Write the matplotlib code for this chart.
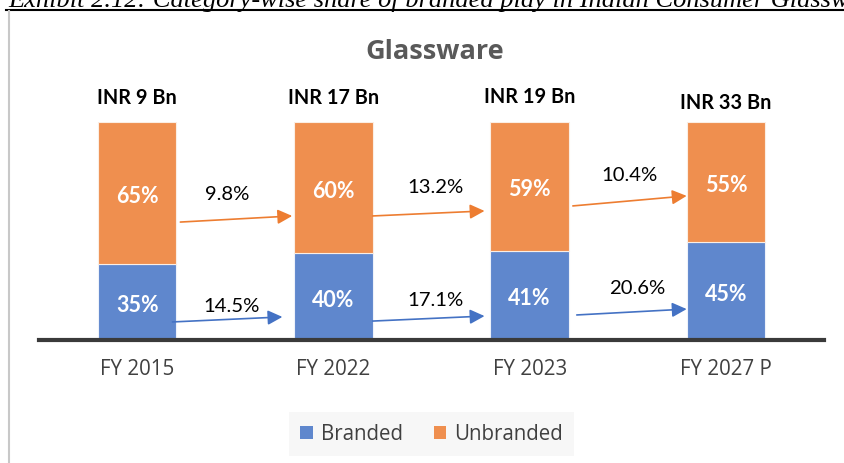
import matplotlib
matplotlib.use("Agg")
import matplotlib.pyplot as plt
from matplotlib.lines import Line2D
from matplotlib.patches import Patch


# ---------------------------------------------------
# Data
# ---------------------------------------------------

years = ["FY 2015", "FY 2022", "FY 2023", "FY 2027 P"]
totals = ["INR 9 Bn", "INR 17 Bn", "INR 19 Bn", "INR 33 Bn"]
branded = [35, 40, 41, 45]
unbranded = [65, 60, 59, 55]
branded_cagr = ["14.5%", "17.1%", "20.6%"]
unbranded_cagr = ["9.8%", "13.2%", "10.4%"]

BLUE = "#5f87cd"
ORANGE = "#ef8f4f"
ARROW_BLUE = "#4472c4"
ARROW_ORANGE = "#ed7d31"
GREY = "#404040"

BOLD_FONT = "Lato"
TEXT_FONT = "Open Sans"

# arrow layout (data coords): (x0, y0, x1, y1)
orange_arrows = [(0.22, 54.1, 0.79, 56.9), (1.2, 56.9, 1.77, 59.2), (2.22, 61.5, 2.8, 66.1)]
blue_arrows = [(0.18, 8.3, 0.74, 10.6), (1.2, 8.7, 1.77, 11.0), (2.24, 11.5, 2.8, 14.2)]
orange_label_pos = [(0.46, 67), (1.52, 70.2), (2.51, 76.1)]
blue_label_pos = [(0.48, 16), (1.52, 18.8), (2.55, 23.9)]
total_label_y = [111.5, 111.5, 111.8, 109.2]


fig = plt.figure(figsize=(8.45, 4.64), dpi=100)
ax = fig.add_axes([0.0462, 0.265, 0.929, 0.47])

x = list(range(len(years)))

ax.bar(x, branded, width=0.4, color=BLUE, edgecolor="#eef2fa", linewidth=0.8)
ax.bar(x, unbranded, width=0.4, bottom=branded, color=ORANGE,
       edgecolor="#fbeee4", linewidth=0.8)

ax.set_xlim(-0.5, 3.5)
ax.set_ylim(0, 100)

for i in x:
    ax.text(i, branded[i] / 2 - 1.2, f"{branded[i]}%", ha="center", va="center",
            color="white", fontsize=15.5, fontweight="bold", family=BOLD_FONT)
    ax.text(i, branded[i] + unbranded[i] / 2 - 1.2, f"{unbranded[i]}%",
            ha="center", va="center", color="white", fontsize=15.5,
            fontweight="bold", family=BOLD_FONT)
    ax.text(i, total_label_y[i], totals[i], ha="center", va="center",
            color="black", fontsize=14.3, fontweight="bold", family=BOLD_FONT,
            clip_on=False)

for (x0, y0, x1, y1) in orange_arrows:
    ax.annotate("", xy=(x1, y1), xytext=(x0, y0),
                arrowprops=dict(arrowstyle="-|>", color=ARROW_ORANGE, lw=1.2,
                                mutation_scale=22, shrinkA=0, shrinkB=0))
for (x0, y0, x1, y1) in blue_arrows:
    ax.annotate("", xy=(x1, y1), xytext=(x0, y0),
                arrowprops=dict(arrowstyle="-|>", color=ARROW_BLUE, lw=1.2,
                                mutation_scale=22, shrinkA=0, shrinkB=0))

for label, (lx, ly) in zip(unbranded_cagr, orange_label_pos):
    ax.text(lx, ly, label, ha="center", va="center", fontsize=14.6,
            family=BOLD_FONT, color="black")
for label, (lx, ly) in zip(branded_cagr, blue_label_pos):
    ax.text(lx, ly, label, ha="center", va="center", fontsize=14.6,
            family=BOLD_FONT, color="black")

ax.set_xticks(x)
ax.set_xticklabels(years, family=TEXT_FONT, fontsize=14.8, color=GREY)
ax.tick_params(axis="x", length=0, pad=13)
ax.set_yticks([])
for side in ["left", "right", "top"]:
    ax.spines[side].set_visible(False)
ax.spines["bottom"].set_color("#3a3a3a")
ax.spines["bottom"].set_linewidth(3)

# title
fig.text(0.514, 0.888, "Glassware", ha="center", va="center", fontsize=19.5,
         fontweight="bold", family=TEXT_FONT, color="#595959")

# legend
handles = [Patch(facecolor=BLUE, edgecolor="none"),
           Patch(facecolor=ORANGE, edgecolor="none")]
leg = fig.legend(handles, ["Branded", "Unbranded"], loc="center",
                 bbox_to_anchor=(0.511, 0.0625), ncol=2, frameon=True,
                 prop={"family": TEXT_FONT, "size": 14.8},
                 handlelength=0.6, handleheight=0.6, handletextpad=0.4,
                 columnspacing=1.5, borderpad=0.55, borderaxespad=0,
                 fancybox=False)
leg.get_frame().set_facecolor("#f6f6f6")
leg.get_frame().set_edgecolor("none")
for t in leg.get_texts():
    t.set_color(GREY)

# page caption, cut off at the top as in the source page, plus frame lines
fig.text(0.01, 0.985, "Exhibit 2.12: Category-wise share of branded play in Indian Consumer Glassware",
         ha="left", va="baseline", fontsize=19, style="italic",
         family="Liberation Serif", color="black")
fig.add_artist(Line2D([0.007, 1.0], [0.976, 0.976], color="black", lw=1.5))
fig.add_artist(Line2D([0.0112, 0.0112], [0.0, 0.974], color="#c8c8c8", lw=1.5))

fig.savefig("out.png", dpi=100)
